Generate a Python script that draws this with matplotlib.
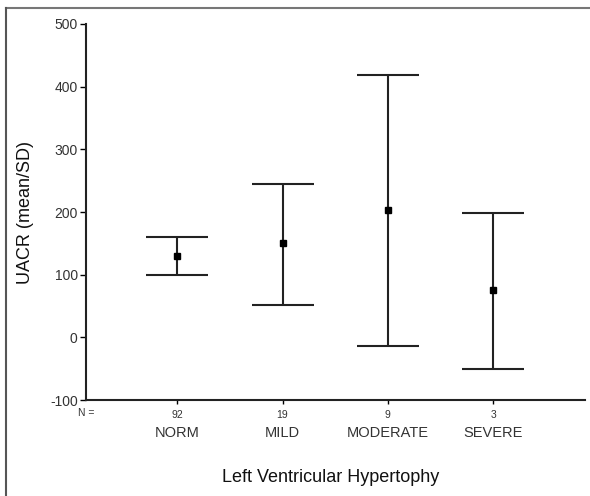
import numpy as np
import matplotlib.pyplot as plt
from matplotlib.lines import Line2D

plt.rcParams['font.family'] = ['Liberation Sans', 'DejaVu Sans']
plt.rcParams['axes.unicode_minus'] = False

# group summaries
groups = ['NORM', 'MILD', 'MODERATE', 'SEVERE']
n_counts = [92, 19, 9, 3]
means = [130, 150, 203, 76]
upper = [160, 244, 418, 199]
lower = [100, 52, -14, -50]

x = np.arange(1, len(groups) + 1)
means = np.array(means)
err = [means - np.array(lower), np.array(upper) - means]

fig = plt.figure(figsize=(5.9, 4.96), dpi=100)
ax = fig.add_axes([86/590, 1 - 400/496, (585 - 86)/590, (400 - 24)/496])

ax.errorbar(x, means, yerr=err, fmt='s', color='black', ms=5,
            ecolor='#222222', elinewidth=1.5, capsize=22, capthick=1.5)

ax.set_xlim(0.135, 4.87)
ax.set_ylim(-100, 500)
ax.set_yticks([-100, 0, 100, 200, 300, 400, 500])
ax.set_xticks(x)
ax.set_xticklabels([str(n) for n in n_counts], fontsize=7.5, color='#333333')
ax.tick_params(axis='x', length=3, width=1, pad=4)
ax.tick_params(axis='y', length=4, width=1, labelsize=10, labelcolor='#333333', pad=2)

for side in ['top', 'right']:
    ax.spines[side].set_visible(False)
for side in ['left', 'bottom']:
    ax.spines[side].set_linewidth(1.5)
    ax.spines[side].set_color('#222222')

# "N =" marker and category names under the counts
ax.text(0.0, -0.035, 'N =', transform=ax.transAxes, fontsize=7.5,
        ha='center', va='center', color='#333333')
for xi, g in zip(x, groups):
    ax.annotate(g, xy=(xi, 0), xycoords=('data', 'axes fraction'),
                xytext=(0, -24), textcoords='offset points',
                ha='center', va='center', fontsize=10.5, color='#333333')

fig.text(331/590, 1 - 478/496, 'Left Ventricular Hypertophy',
         ha='center', va='center', fontsize=13, color='#111111')
fig.text(25/590, 1 - 212/496, 'UACR (mean/SD)', rotation=90,
         ha='center', va='center', fontsize=13, color='#111111')

# grey frame on top and left edge of the figure
fig.add_artist(Line2D([6/590, 1], [1 - 8/496, 1 - 8/496], transform=fig.transFigure,
                      color='#777777', lw=1.5))
fig.add_artist(Line2D([6/590, 6/590], [0, 1 - 8/496], transform=fig.transFigure,
                      color='#555555', lw=1.5))

fig.savefig('out.png', dpi=100)
